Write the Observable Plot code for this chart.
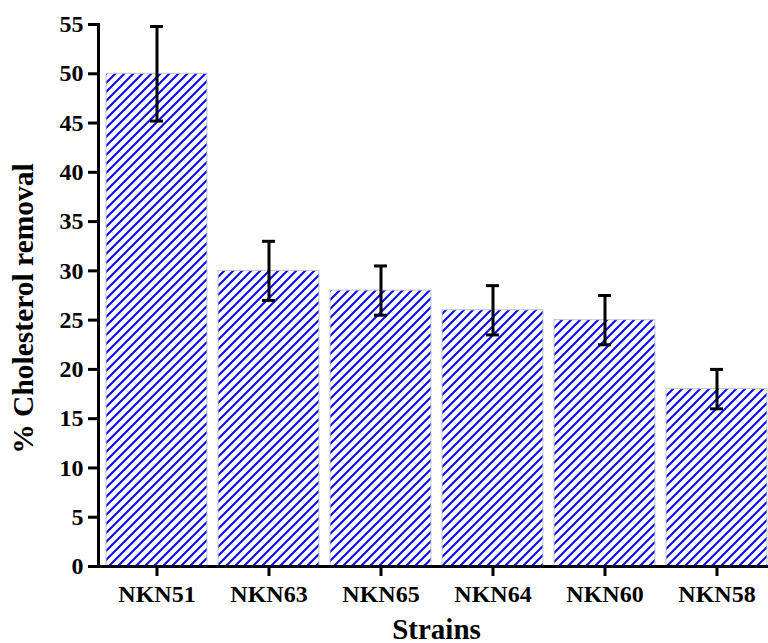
<!DOCTYPE html>
<html>
<head>
<meta charset="utf-8">
<script src="https://cdn.jsdelivr.net/npm/d3@7"></script>
<script src="https://cdn.jsdelivr.net/npm/@observablehq/plot@0.6"></script>
<style>
  html, body { margin: 0; padding: 0; background: #fff; }
  #chart svg { display: block; }
</style>
</head>
<body>
<div id="chart"></div>
<script>
const strains = ["NKN51", "NKN63", "NKN65", "NKN64", "NKN60", "NKN58"];
const removal = [50, 30, 28, 26, 25, 18];
const errors  = [4.8, 3, 2.5, 2.5, 2.5, 2];
const yTicks  = [0, 5, 10, 15, 20, 25, 30, 35, 40, 45, 50, 55];
const yTitle  = "% Cholesterol removal";
const xTitle  = "Strains";

const data = strains.map((s, i) => ({
  strain: s, value: removal[i], lo: removal[i] - errors[i], hi: removal[i] + errors[i]
}));

const font = "'Liberation Serif', 'Times New Roman', serif";

const chart = Plot.plot({
  width: 768,
  height: 643,
  marginLeft: 98,
  marginRight: 0,
  marginTop: 24,
  marginBottom: 77,
  style: { fontFamily: font, fontWeight: "bold", background: "#fff", color: "#000" },
  x: { domain: strains, range: [98.3, 774.3], paddingInner: 0.1, paddingOuter: 0.06 },
  y: { domain: [0, 55], range: [566, 24] },
  marks: [
    Plot.barY(data, { x: "strain", y: "value", fill: "url(#hatch)", stroke: "#c8c8c8", strokeWidth: 1 }),
    Plot.ruleX(data, { x: "strain", y1: "lo", y2: "hi", stroke: "#000", strokeWidth: 3 }),
    Plot.tickY(data, { x: "strain", y: "lo", stroke: "#000", strokeWidth: 3, insetLeft: 44, insetRight: 44 }),
    Plot.tickY(data, { x: "strain", y: "hi", stroke: "#000", strokeWidth: 3, insetLeft: 44, insetRight: 44 }),
    Plot.axisY({
      ticks: yTicks, tickSize: 10, tickPadding: 5, strokeWidth: 3,
      fontSize: 24, fontWeight: "bold", fill: "#000", label: null
    }),
    Plot.axisX({
      tickSize: 10, tickPadding: 8, strokeWidth: 3,
      fontSize: 24, fontWeight: "bold", fill: "#000", label: null
    }),
    Plot.ruleY([0], { stroke: "#000", strokeWidth: 3 }),
    Plot.frame({ anchor: "left", stroke: "#000", strokeWidth: 3 }),
    Plot.text([yTitle], {
      text: d => d, frameAnchor: "left", rotate: -90, dx: -75, dy: 13,
      fontSize: 29.5, fontWeight: "bold", fill: "#000", textAnchor: "middle"
    }),
    Plot.text([xTitle], {
      text: d => d, frameAnchor: "bottom", lineAnchor: "bottom", dx: 3, dy: 72,
      fontSize: 29, fontWeight: "bold", fill: "#000", textAnchor: "middle"
    })
  ]
});

// hatch pattern definition
const ns = "http://www.w3.org/2000/svg";
const defs = document.createElementNS(ns, "defs");
const pat = document.createElementNS(ns, "pattern");
pat.setAttribute("id", "hatch");
pat.setAttribute("patternUnits", "userSpaceOnUse");
pat.setAttribute("width", "9");
pat.setAttribute("height", "9");
const bg = document.createElementNS(ns, "rect");
bg.setAttribute("width", "9"); bg.setAttribute("height", "9"); bg.setAttribute("fill", "#fff");
pat.appendChild(bg);
const p = document.createElementNS(ns, "path");
p.setAttribute("d", "M-1,10 L10,-1 M-2,2 L2,-2 M7,11 L11,7");
p.setAttribute("stroke", "#0a0aff");
p.setAttribute("stroke-width", "2.1");
pat.appendChild(p);
defs.appendChild(pat);
chart.insertBefore(defs, chart.firstChild);

document.getElementById("chart").appendChild(chart);
</script>
</body>
</html>
